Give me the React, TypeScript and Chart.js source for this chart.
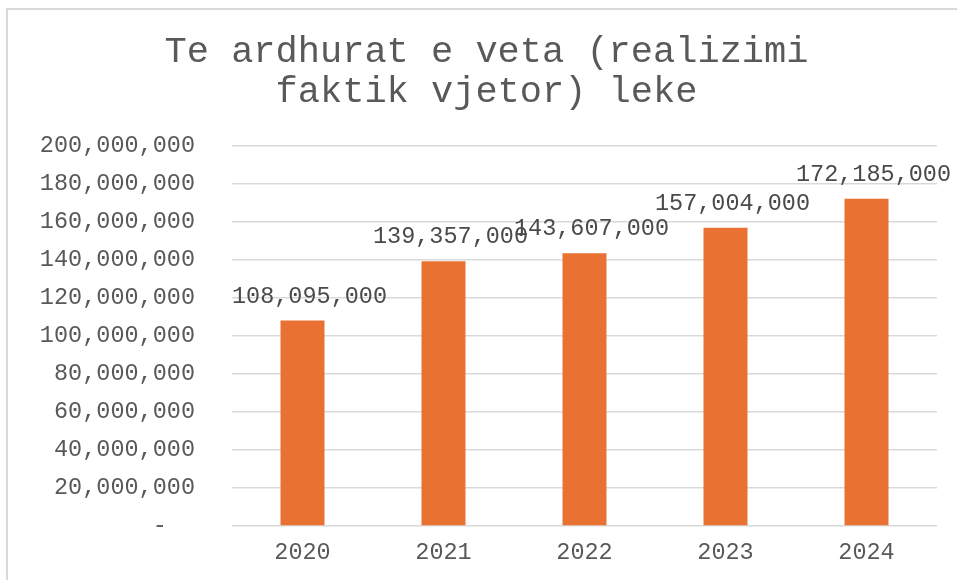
import React, { useEffect, useRef } from "react";
import { Chart, registerables } from "chart.js";

Chart.register(...registerables);

const TITLE_LINES = ["Te ardhurat e veta (realizimi", "faktik vjetor) leke"];
const CATEGORIES = ["2020", "2021", "2022", "2023", "2024"];
const VALUES = [108095000, 139357000, 143607000, 157004000, 172185000];
const Y_MIN = 0;
const Y_MAX = 200000000;
const Y_STEP = 20000000;

const FONT_FAMILY = "'Liberation Mono', 'Courier New', monospace";
const BAR_COLOR = "#E97132";
const TEXT_COLOR = "#595959";
const LABEL_COLOR = "#4A4A4A";
const GRID_COLOR = "#D9D9D9";

const fmt = (v: number) => (v === 0 ? "-  " : v.toLocaleString("en-US"));

const framePlugin = {
  id: "frame",
  beforeDraw(chart: any) {
    const ctx = chart.ctx;
    ctx.save();
    ctx.fillStyle = "#FFFFFF";
    ctx.fillRect(0, 0, chart.width, chart.height);
    ctx.strokeStyle = GRID_COLOR;
    ctx.lineWidth = 2;
    ctx.strokeRect(7, 9, chart.width + 20, chart.height + 20);
    ctx.restore();
  },
};

const titlePlugin = {
  id: "customTitle",
  afterDraw(chart: any) {
    const ctx = chart.ctx;
    ctx.save();
    ctx.font = `37px ${FONT_FAMILY}`;
    ctx.fillStyle = TEXT_COLOR;
    ctx.textAlign = "center";
    ctx.textBaseline = "alphabetic";
    TITLE_LINES.forEach((line, i) => {
      ctx.fillText(line, 486.5, 62 + i * 40);
    });
    ctx.restore();
  },
};

const dataLabelPlugin = {
  id: "dataLabels",
  afterDatasetsDraw(chart: any) {
    const ctx = chart.ctx;
    const meta = chart.getDatasetMeta(0);
    ctx.save();
    ctx.font = `23.5px ${FONT_FAMILY}`;
    ctx.fillStyle = LABEL_COLOR;
    ctx.textAlign = "center";
    ctx.textBaseline = "alphabetic";
    meta.data.forEach((bar: any, i: number) => {
      ctx.fillText(fmt(VALUES[i]), bar.x + 7, bar.y - 18);
    });
    ctx.restore();
  },
};

export default function App() {
  const canvasRef = useRef<HTMLCanvasElement | null>(null);

  useEffect(() => {
    document.body.style.margin = "0";
    const canvas = canvasRef.current;
    if (!canvas) return;
    const chart = new Chart(canvas, {
      type: "bar",
      data: {
        labels: CATEGORIES,
        datasets: [
          {
            data: VALUES,
            backgroundColor: BAR_COLOR,
            borderWidth: 0,
            categoryPercentage: 1,
            barPercentage: 0.312,
          },
        ],
      },
      options: {
        responsive: false,
        animation: false,
        devicePixelRatio: 1,
        layout: { padding: { left: 0, right: 20, top: 146, bottom: 0 } },
        plugins: {
          legend: { display: false },
          title: { display: false },
          tooltip: { enabled: false },
        },
        scales: {
          x: {
            grid: { display: false, drawTicks: false },
            border: { display: false },
            ticks: {
              color: TEXT_COLOR,
              font: { family: FONT_FAMILY, size: 23.5 },
              padding: 13,
              maxRotation: 0,
            },
            afterFit(scale: any) {
              scale.height = 54;
            },
          },
          y: {
            min: Y_MIN,
            max: Y_MAX,
            grid: { color: GRID_COLOR, lineWidth: 1.5, drawTicks: false },
            border: { display: false },
            ticks: {
              stepSize: Y_STEP,
              color: TEXT_COLOR,
              font: { family: FONT_FAMILY, size: 23.5 },
              padding: 37,
              callback: (v: any) => fmt(Number(v)),
            },
            afterFit(scale: any) {
              scale.width = 232;
            },
          },
        },
      },
      plugins: [framePlugin, titlePlugin, dataLabelPlugin],
    });
    return () => chart.destroy();
  }, []);

  return (
    <div style={{ width: 957, height: 580 }}>
      <canvas ref={canvasRef} width={957} height={580} style={{ display: "block" }} />
    </div>
  );
}
